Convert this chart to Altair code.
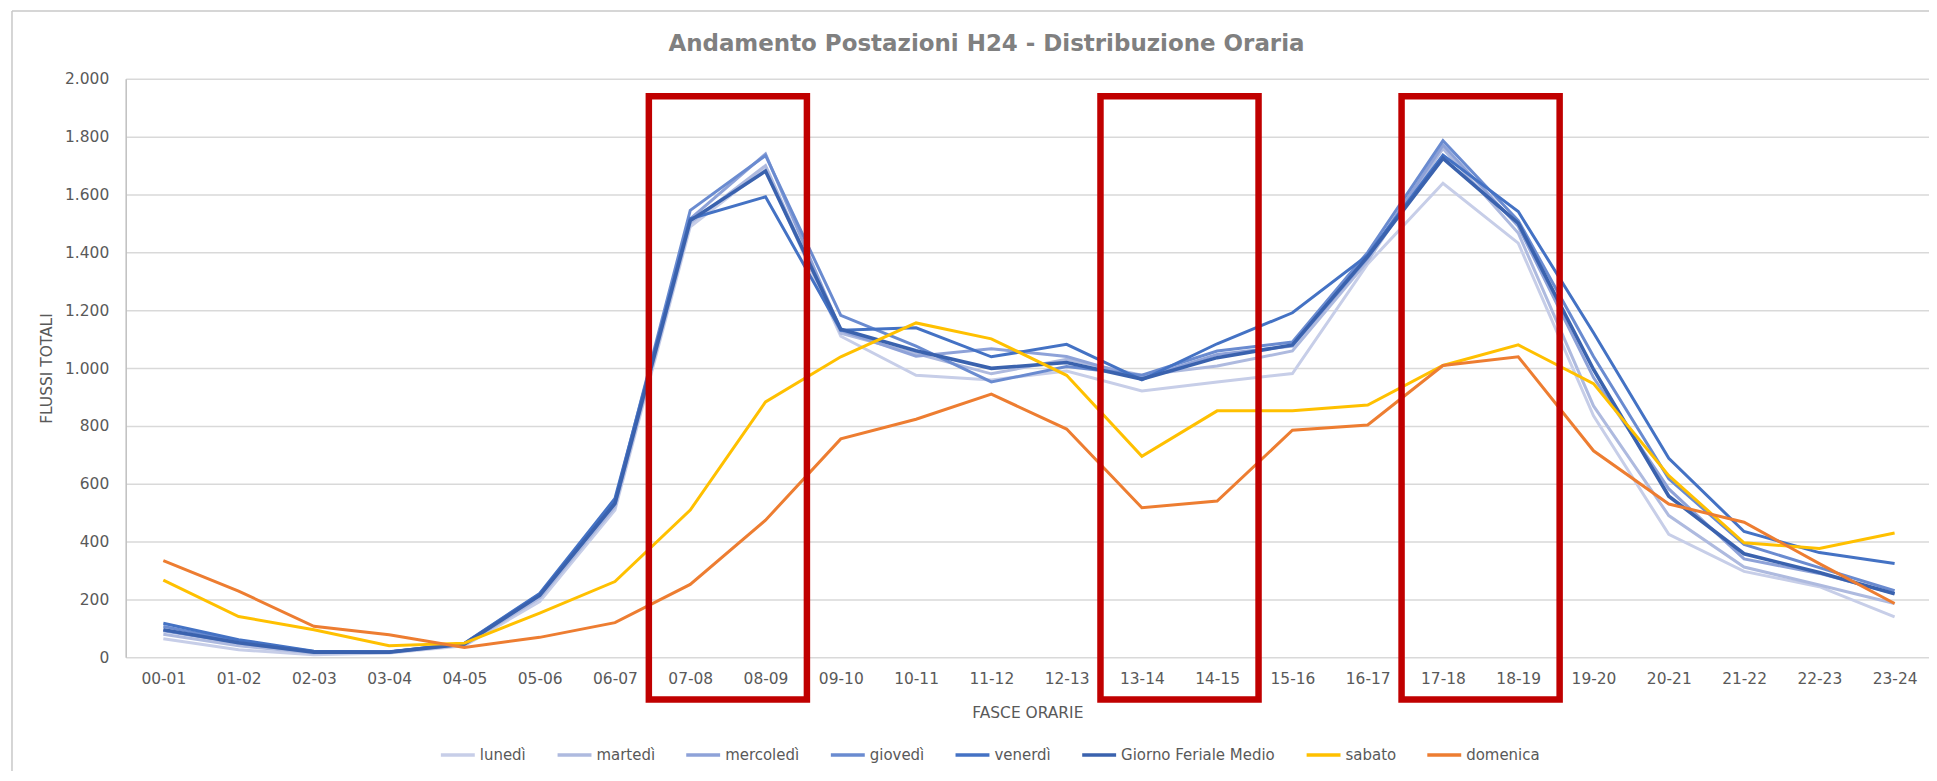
import json
import altair as alt
import pandas as pd

hours = ["00-01", "01-02", "02-03", "03-04", "04-05", "05-06", "06-07", "07-08",
         "08-09", "09-10", "10-11", "11-12", "12-13", "13-14", "14-15", "15-16",
         "16-17", "17-18", "18-19", "19-20", "20-21", "21-22", "22-23", "23-24"]

series_names = ["lunedì", "martedì", "mercoledì", "giovedì", "venerdì",
                "Giorno Feriale Medio", "sabato", "domenica"]

lunedi = [64, 26, 9, 15, 40, 193, 509, 1488, 1690, 1110, 975, 959, 990, 921, 952, 981,
          1360, 1639, 1432, 835, 425, 297, 244, 140]
martedi = [80, 40, 15, 18, 42, 205, 520, 1500, 1700, 1120, 1050, 980, 1030, 975, 1007, 1059,
           1370, 1759, 1467, 869, 490, 312, 250, 186]
mercoledi = [92, 49, 18, 18, 45, 215, 530, 1516, 1740, 1130, 1041, 1067, 1040, 965, 1047, 1076,
             1380, 1771, 1490, 967, 582, 340, 290, 220]
giovedi = [107, 55, 20, 18, 48, 218, 540, 1545, 1735, 1182, 1076, 952, 1005, 975, 1059, 1090,
           1400, 1786, 1510, 1040, 617, 390, 310, 230]
venerdi = [118, 61, 21, 18, 49, 221, 549, 1516, 1592, 1131, 1139, 1039, 1082, 959, 1084, 1191,
           1390, 1736, 1541, 1122, 688, 435, 362, 324]
feriale_medio = [95, 50, 18, 18, 46, 214, 532, 1510, 1681, 1134, 1060, 999, 1019, 962, 1036, 1080,
                 1385, 1725, 1501, 995, 557, 358, 293, 220]
sabato = [267, 141, 95, 40, 49, 153, 262, 509, 883, 1039, 1156, 1101, 975, 695, 852, 852,
          872, 1009, 1080, 946, 628, 396, 376, 430]
domenica = [334, 229, 107, 78, 34, 69, 120, 252, 474, 755, 823, 910, 789, 517, 540, 785,
            803, 1009, 1039, 714, 530, 467, 324, 186]

series_values = [lunedi, martedi, mercoledi, giovedi, venerdi, feriale_medio, sabato, domenica]
series_colors = ["#c7cee8", "#aebadf", "#8ea2d8", "#6a8bd0", "#4472c4", "#3a62ae",
                 "#ffc000", "#ed7d31"]
series_widths = [3, 3, 3, 3, 3, 3.6, 3, 3]

highlight_ranges = [("07-08", "08-09"), ("13-14", "14-15"), ("17-18", "18-19")]

rows = []
for k, (name, vals) in enumerate(zip(series_names, series_values)):
    for i, (h, v) in enumerate(zip(hours, vals)):
        rows.append({"idx": i, "fascia": h, "serie": name, "valore": v,
                     "ordine": k, "spessore": series_widths[k]})
df = pd.DataFrame(rows)

hl = pd.DataFrame([
    {"x0": hours.index(a) - 0.55, "x1": hours.index(b) + 0.55, "y0": -146, "y1": 1940}
    for a, b in highlight_ranges
])

FONT = "DejaVu Sans"
TXT = "#595959"
x_scale = alt.Scale(domain=[-0.5, 23.457], nice=False, zero=False)
y_scale = alt.Scale(domain=[0, 2000], nice=False)

x_axis = alt.Axis(values=list(range(24)),
                  labelExpr=json.dumps(hours) + "[datum.value]",
                  title="FASCE ORARIE", grid=False, ticks=False, domain=False,
                  labelPadding=14, titlePadding=19)
y_axis = alt.Axis(values=list(range(0, 2001, 200)),
                  labelExpr="replace(format(datum.value, ','), ',', '.')",
                  title="FLUSSI TOTALI", ticks=False, grid=True,
                  labelPadding=17, titlePadding=10)

lines = alt.Chart(df).mark_line(clip=False).encode(
    x=alt.X("idx:Q", scale=x_scale, axis=x_axis, title="FASCE ORARIE"),
    y=alt.Y("valore:Q", scale=y_scale, axis=y_axis, title="FLUSSI TOTALI"),
    color=alt.Color("serie:N", sort=series_names,
                    scale=alt.Scale(domain=series_names, range=series_colors),
                    legend=alt.Legend(title=None, orient="none", direction="horizontal",
                                      legendX=314, legendY=659, symbolType="stroke",
                                      symbolSize=1156, symbolStrokeWidth=3.5,
                                      labelFont=FONT, labelFontSize=15, labelColor=TXT,
                                      labelOffset=3, columnPadding=24, padding=0,
                                      columns=8)),
    strokeWidth=alt.StrokeWidth("spessore:Q", scale=None, legend=None),
    order=alt.Order("idx:Q"),
    detail="ordine:N",
)

boxes = alt.Chart(hl).mark_rect(filled=False, stroke="#c00000", strokeWidth=6.5, clip=False).encode(
    x=alt.X("x0:Q", scale=x_scale, axis=x_axis, title="FASCE ORARIE"),
    x2="x1",
    y=alt.Y("y0:Q", scale=y_scale, axis=y_axis, title="FLUSSI TOTALI"),
    y2="y1",
)

frame_src = alt.Data(values=[{"k": 1}])
frame_left = alt.Chart(frame_src).mark_rule(color="#c8c8c8", strokeWidth=1.5, clip=False).encode(
    x=alt.value(-114), y=alt.value(-68), y2=alt.value(720))
frame_top = alt.Chart(frame_src).mark_rule(color="#c8c8c8", strokeWidth=1.5, clip=False).encode(
    x=alt.value(-114), x2=alt.value(1830), y=alt.value(-68))

chart = alt.layer(lines, boxes, frame_left, frame_top).properties(
    width=1808,
    height=580,
    autosize=alt.AutoSizeParams(type="none"),
    padding={"left": 118, "top": 70, "right": 0, "bottom": 113},
    background="white",
    title=alt.TitleParams("Andamento Postazioni H24 - Distribuzione Oraria",
                          font="DejaVu Sans", fontSize=23, fontWeight="bold",
                          color="#808080", anchor="middle", dx=-41, dy=61, offset=15),
).configure_view(
    stroke=None
).configure_axis(
    labelFont=FONT, labelFontSize=15.5, labelColor=TXT,
    titleFont=FONT, titleFontSize=15.5, titleFontWeight="normal", titleColor=TXT,
    gridColor="#d9d9d9", gridWidth=1.5, domainColor="#bfbfbf", domainWidth=1.5,
)

chart.save("out.html", embed_options={"renderer": "svg", "actions": False})
